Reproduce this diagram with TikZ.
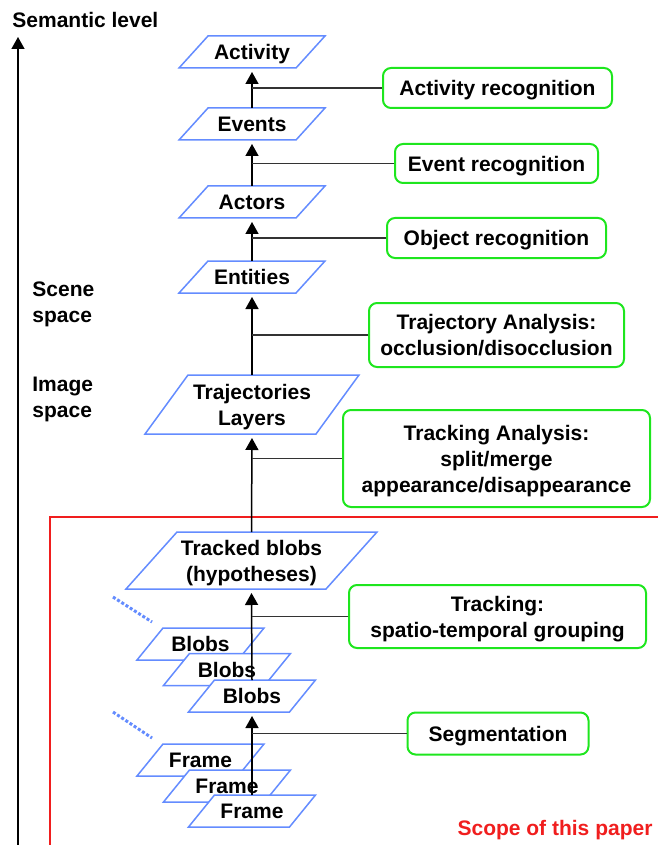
\documentclass[tikz,border=0pt]{standalone}
\usepackage{fontspec}
\setmainfont{Liberation Sans}
\usetikzlibrary{calc}
\usetikzlibrary{arrows.meta}

\definecolor{paraBlue}{RGB}{100,140,255}
\definecolor{taskGreen}{RGB}{30,230,30}
\definecolor{scopeRed}{RGB}{240,30,30}

% name, x, y, width, height, slant, text  (all in px)
\newcommand{\slantnode}[7]{%
  \filldraw[slanted] ({#2-#4/2},{#3+#5/2}) -- ({#2+#4/2-#6},{#3+#5/2})
    -- ({#2+#4/2},{#3-#5/2}) -- ({#2-#4/2+#6},{#3-#5/2}) -- cycle;
  \node[paratext, minimum height=#5*0.5pt] (#1) at (#2,#3) {#7};}

\begin{document}
\begin{tikzpicture}[x=0.5pt, y=-0.5pt,
    font=\bfseries\fontsize{10.5}{13}\selectfont,
    slanted/.style={draw=paraBlue, fill=white, line width=0.75pt},
    paratext/.style={inner sep=0pt, outer sep=0pt, align=center, text depth=0pt},
    task/.style={draw=taskGreen, rounded corners=4pt, line width=1pt, align=center, inner sep=0pt, text depth=0pt},
    side/.style={anchor=west, align=left, inner sep=0pt},
    flow/.style={-{Triangle[length=6pt,width=6.5pt]}, line width=0.75pt, shorten >=2pt},
    link/.style={black!80, line width=0.75pt}]
  \useasboundingbox (0,0) rectangle (658,845);

  % Scope of this paper
  \draw[scopeRed, line width=0.75pt] (50,845) -- (50,517) -- (658,517);
  \node[text=scopeRed] (scope) at (555,830) {Scope of this paper};

  % Semantic level axis
  \coordinate (axisbot) at (18,845);
  \coordinate (axistop) at (18,37);
  \draw[flow, shorten >=0pt] (axisbot) -- (axistop);
  \node[side] (semlevel) at (12,20) {Semantic level};
  \node[side] (scene) at (32,304) {Scene\\space};
  \node[side] (image) at (32,399.5) {Image\\space};

  % Levels
  \slantnode{act}{252}{52}{146}{32}{29}{Activity}
  \slantnode{ev}{252}{124}{146}{32}{29}{Events}
  \slantnode{actors}{252}{202}{146}{32}{29}{Actors}
  \slantnode{ent}{252}{277}{146}{32}{29}{Entities}
  \slantnode{traj}{252}{404.5}{214}{59}{43}{Trajectories\\Layers}
  \slantnode{tracked}{251.5}{560.5}{251}{57}{51}{Tracked blobs\\(hypotheses)}

  % Blobs stack
  \slantnode{blobs1}{200.5}{644}{127}{32}{26}{Blobs}
  \slantnode{blobs2}{227}{669.5}{127}{32}{26}{Blobs}
  \slantnode{blobs3}{252}{696}{127}{32}{26}{Blobs}

  % Frame stack
  \slantnode{frame1}{200.5}{760}{127}{32}{26}{Frame}
  \slantnode{frame2}{227}{786}{127}{32}{26}{Frame}
  \slantnode{frame3}{252}{811}{127}{32}{26}{Frame}

  % More of the stacks
  \draw[paraBlue, line width=1.5pt, dash pattern=on 1.5pt off 1pt] (113,597) -- (152,622);
  \draw[paraBlue, line width=1.5pt, dash pattern=on 1.5pt off 1pt] (113,712) -- (152,738);

  % Processing steps
  \node[task, minimum width=229*0.5pt, minimum height=40*0.5pt] (actrec) at (497.5,88) {Activity recognition};
  \node[task, minimum width=203*0.5pt, minimum height=39*0.5pt] (evrec) at (496.5,163.5) {Event recognition};
  \node[task, minimum width=219*0.5pt, minimum height=40*0.5pt] (objrec) at (496.5,238) {Object recognition};
  \node[task, minimum width=255*0.5pt, minimum height=64*0.5pt] (trajan) at (496.5,335) {Trajectory Analysis:\\occlusion/disocclusion};
  \node[task, minimum width=307*0.5pt, minimum height=97*0.5pt] (trackan) at (496.5,458.5) {Tracking Analysis:\\split/merge\\appearance/disappearance};
  \node[task, minimum width=297*0.5pt, minimum height=63*0.5pt] (tracking) at (497.5,616.5) {Tracking:\\spatio-temporal grouping};
  \node[task, minimum width=181*0.5pt, minimum height=42*0.5pt] (seg) at (498,733.5) {Segmentation};

  % Upward flow
  \draw[flow] (frame3.north) -- (blobs3.south);
  \draw[flow] (blobs3.north) -- (tracked.south);
  \draw[flow] (tracked.north) -- (traj.south);
  \draw[flow] (traj.north) -- (ent.south);
  \draw[flow] (ent.north) -- (actors.south);
  \draw[flow] (actors.north) -- (ev.south);
  \draw[flow] (ev.north) -- (act.south);

  % Links to the steps
  \draw[link] (actrec.west) -- (actrec.west -| act.south);
  \draw[link] (evrec.west) -- (evrec.west -| ev.south);
  \draw[link] (objrec.west) -- (objrec.west -| actors.south);
  \draw[link] (trajan.west) -- (trajan.west -| ent.south);
  \draw[link] (trackan.west) -- (trackan.west -| traj.south);
  \draw[link] (tracking.west) -- (tracking.west -| tracked.south);
  \draw[link] (seg.west) -- (seg.west -| blobs3.south);
\end{tikzpicture}
\end{document}
